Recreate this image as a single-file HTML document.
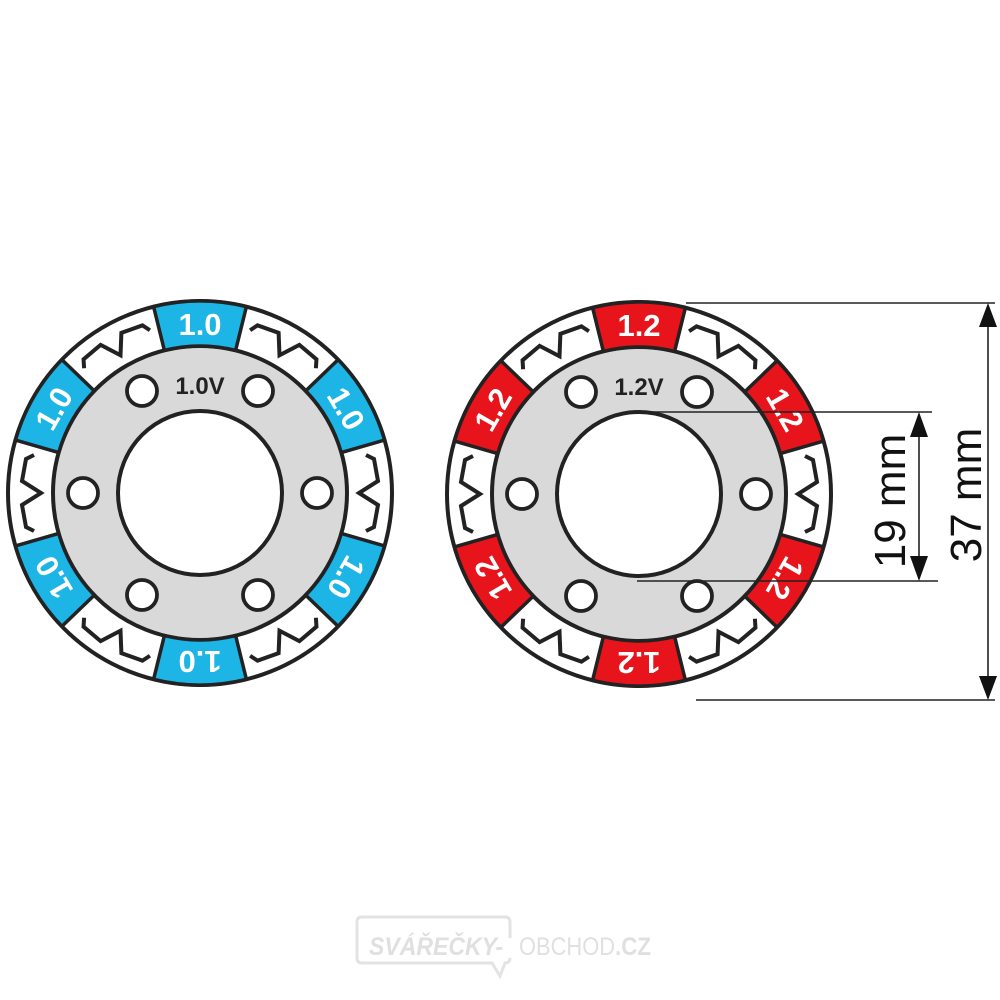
<!DOCTYPE html>
<html><head><meta charset="utf-8"><style>
html,body{margin:0;padding:0;background:#fff;}
svg{display:block;}
.seg{stroke:#222;stroke-width:3.5;stroke-linejoin:round;}
.zz{fill:none;stroke:#222;stroke-width:4;stroke-linejoin:miter;}
.lbl{font-family:"Liberation Sans",sans-serif;font-weight:bold;font-size:31px;fill:#fff;text-anchor:middle;}
.hole{fill:#fff;stroke:#222;stroke-width:3.8;}
</style></head><body>
<svg width="1000" height="1000" viewBox="0 0 1000 1000">
<defs>
  <path id="sec" d="M -46.4 -186.3 A 192 192 0 0 1 46.4 -186.3 L 35.6 -142.6 A 147 147 0 0 0 -35.6 -142.6 Z"/>
  <path id="zig" d="M -38 -166 L -34 -174 L -12 -178 L 0 -159 L 12 -178 L 34 -174 L 38 -166"/>
  <g id="wheelbase">
    <circle r="192" fill="#fff" stroke="#222" stroke-width="4"/>
    <g class="zz">
      <use href="#zig" transform="rotate(30)"/><use href="#zig" transform="rotate(90)"/>
      <use href="#zig" transform="rotate(150)"/><use href="#zig" transform="rotate(210)"/>
      <use href="#zig" transform="rotate(270)"/><use href="#zig" transform="rotate(330)"/>
    </g>
    <circle r="147" fill="#d9d9d9" stroke="#222" stroke-width="4"/>
    <circle r="82" fill="#fff" stroke="#222" stroke-width="4"/>
    <circle class="hole" cx="58" cy="-102" r="15"/>
    <circle class="hole" cx="-58" cy="-102" r="15"/>
    <circle class="hole" cx="117" cy="0" r="15"/>
    <circle class="hole" cx="-117" cy="0" r="15"/>
    <circle class="hole" cx="58" cy="102" r="15"/>
    <circle class="hole" cx="-58" cy="102" r="15"/>
  </g>
</defs>

<!-- Left wheel -->
<g transform="translate(200,493)">
  <use href="#wheelbase"/>
  <g fill="#1db4e6" class="seg">
    <use href="#sec"/><use href="#sec" transform="rotate(60)"/><use href="#sec" transform="rotate(120)"/>
    <use href="#sec" transform="rotate(180)"/><use href="#sec" transform="rotate(240)"/><use href="#sec" transform="rotate(300)"/>
  </g>
  <g class="lbl">
    <text y="-158">1.0</text>
    <text y="-158" transform="rotate(60)">1.0</text>
    <text y="-158" transform="rotate(120)">1.0</text>
    <text y="-158" transform="rotate(180)">1.0</text>
    <text y="-158" transform="rotate(240)">1.0</text>
    <text y="-158" transform="rotate(300)">1.0</text>
  </g>
  <text x="0" y="-99" font-family="Liberation Sans,sans-serif" font-weight="bold" font-size="24" fill="#222" text-anchor="middle">1.0V</text>
</g>

<!-- Right wheel -->
<g transform="translate(639,494)">
  <use href="#wheelbase"/>
  <g fill="#e8141c" class="seg">
    <use href="#sec"/><use href="#sec" transform="rotate(60)"/><use href="#sec" transform="rotate(120)"/>
    <use href="#sec" transform="rotate(180)"/><use href="#sec" transform="rotate(240)"/><use href="#sec" transform="rotate(300)"/>
  </g>
  <g class="lbl">
    <text y="-158">1.2</text>
    <text y="-158" transform="rotate(60)">1.2</text>
    <text y="-158" transform="rotate(120)">1.2</text>
    <text y="-158" transform="rotate(180)">1.2</text>
    <text y="-158" transform="rotate(240)">1.2</text>
    <text y="-158" transform="rotate(300)">1.2</text>
  </g>
  <text x="0" y="-99" font-family="Liberation Sans,sans-serif" font-weight="bold" font-size="24" fill="#222" text-anchor="middle">1.2V</text>
</g>

<!-- Dimensions -->
<g stroke="#222" stroke-width="1.6" fill="none">
  <line x1="686" y1="303" x2="995" y2="303"/>
  <line x1="696" y1="700" x2="995" y2="700"/>
  <line x1="988" y1="310" x2="988" y2="693"/>
  <line x1="637" y1="412" x2="932" y2="412"/>
  <line x1="637" y1="581" x2="938" y2="581"/>
  <line x1="919" y1="418" x2="919" y2="575"/>
</g>
<g fill="#111">
  <polygon points="988,303 979,327 997,327"/>
  <polygon points="988,700 979,676 997,676"/>
  <polygon points="919,412 910,437 928,437"/>
  <polygon points="919,581 910,556 928,556"/>
</g>
<text transform="translate(905,501) rotate(-90)" font-family="Liberation Sans,sans-serif" font-size="44" fill="#111" text-anchor="middle">19 mm</text>
<text transform="translate(981,495) rotate(-90)" font-family="Liberation Sans,sans-serif" font-size="44" fill="#111" text-anchor="middle">37 mm</text>

<!-- Watermark -->
<g fill="none" stroke="#e3e3e3" stroke-width="3">
  <path d="M 510 938 L 510 922 Q 510 917 505 917 L 362 917 Q 357 917 357 922 L 357 958 Q 357 963 362 963 L 492 963 L 500 976 L 505 963 Q 510 963 510 958"/>
</g>
<text x="369" y="955" font-family="Liberation Sans,sans-serif" font-weight="bold" font-style="italic" font-size="25" fill="#e0e0e0" textLength="134" lengthAdjust="spacingAndGlyphs">SVÁŘEČKY-</text>
<text x="519" y="955" font-family="Liberation Sans,sans-serif" font-size="25" fill="#e0e0e0" textLength="96" lengthAdjust="spacingAndGlyphs">OBCHOD</text>
<text x="615" y="955" font-family="Liberation Sans,sans-serif" font-weight="bold" font-size="25" fill="#e0e0e0" textLength="36" lengthAdjust="spacingAndGlyphs">.CZ</text>
</svg>
</body></html>
